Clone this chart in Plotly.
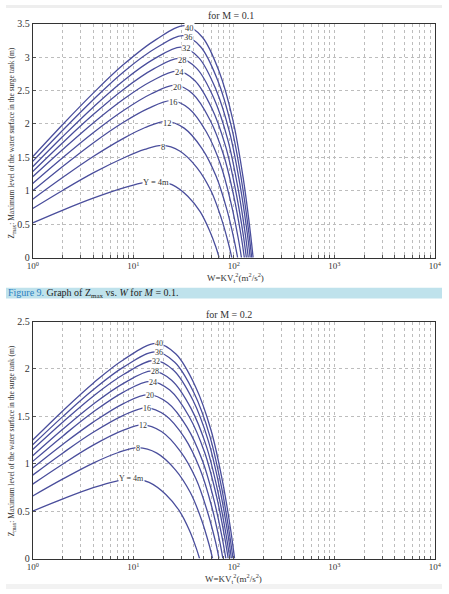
import math
import plotly.graph_objects as go

# ---------------- data ----------------
Y_LEVELS = [4, 8, 12, 16, 20, 24, 28, 32, 36, 40]
CURVE_LABELS = ["Y = 4m", "8", "12", "16", "20", "24", "28", "32", "36", "40"]

# Panel 1: M = 0.1
W_M01 = [
    [1, 2, 4, 8, 12, 17, 24.3, 34.9, 46.5, 57.7, 66.7, 71.6],
    [1, 2, 4, 8, 13, 19.5, 29.0, 43.2, 59.4, 75.3, 88.3, 95.7],
    [1, 2, 4, 8, 13, 21.4, 32.1, 48.4, 67.0, 85.7, 100.8, 109.4],
    [1, 2, 4, 8, 14, 24.0, 35.8, 53.5, 73.8, 93.8, 110.2, 119.4],
    [1, 2, 4, 8, 15, 26.3, 39.0, 57.9, 79.4, 100.7, 118.0, 127.6],
    [1, 2, 4, 8, 15, 27.5, 40.9, 60.7, 83.2, 105.4, 123.6, 133.7],
    [1, 2, 4, 8, 16, 28.8, 42.8, 63.5, 87.0, 110.2, 129.1, 139.6],
    [1, 2, 4, 8, 16, 30.2, 44.8, 66.4, 91.0, 115.1, 134.9, 145.9],
    [1, 2, 4, 8, 17, 31.6, 46.8, 69.1, 94.4, 119.4, 139.6, 151.0],
    [1, 2, 4, 8, 17, 33.1, 48.8, 71.9, 97.9, 123.6, 144.2, 156.0],
]
Z_M01 = [
    [0.52, 0.712, 0.89, 1.044, 1.115, 1.15, 1.093, 0.92, 0.684, 0.40, 0.153, 0],
    [0.735, 1.009, 1.268, 1.491, 1.619, 1.68, 1.596, 1.344, 1.0, 0.588, 0.223, 0],
    [0.875, 1.202, 1.513, 1.785, 1.943, 2.04, 1.938, 1.632, 1.214, 0.714, 0.271, 0],
    [1.0, 1.367, 1.716, 2.025, 2.23, 2.35, 2.233, 1.88, 1.398, 0.823, 0.313, 0],
    [1.11, 1.498, 1.869, 2.201, 2.448, 2.58, 2.451, 2.064, 1.535, 0.903, 0.343, 0],
    [1.21, 1.622, 2.016, 2.37, 2.635, 2.79, 2.651, 2.232, 1.66, 0.977, 0.371, 0],
    [1.29, 1.724, 2.14, 2.517, 2.823, 2.98, 2.831, 2.384, 1.773, 1.043, 0.396, 0],
    [1.36, 1.815, 2.251, 2.647, 2.969, 3.15, 2.993, 2.52, 1.874, 1.103, 0.419, 0],
    [1.44, 1.91, 2.363, 2.779, 3.14, 3.32, 3.154, 2.656, 1.975, 1.162, 0.442, 0],
    [1.51, 1.996, 2.461, 2.888, 3.266, 3.47, 3.297, 2.776, 2.065, 1.215, 0.462, 0],
]
LABEL_W_M01 = [16.9, 20.0, 22.0, 25.4, 27.7, 28.8, 30.8, 33.6, 35.2, 36.0]
LABEL_Z_M01 = [1.13, 1.66, 2.02, 2.33, 2.55, 2.77, 2.95, 3.13, 3.30, 3.44]

# Panel 2: M = 0.2
W_M02 = [
    [1, 2, 4, 7, 9.8, 14.4, 21.1, 28.8, 36.3, 42.3, 45.7],
    [1, 2, 4, 7, 11.2, 17.2, 26.3, 37.0, 47.8, 56.6, 61.6],
    [1, 2, 4, 8, 12.3, 19.1, 29.6, 42.2, 54.8, 65.5, 71.4],
    [1, 2, 4, 8, 13.5, 20.9, 32.5, 46.1, 60.1, 71.6, 78.1],
    [1, 2, 4, 8, 14.1, 22.0, 34.4, 49.0, 64.0, 76.4, 83.5],
    [1, 2, 4, 8, 14.8, 23.1, 36.1, 51.6, 67.5, 80.5, 88.1],
    [1, 2, 4, 8, 15.5, 24.1, 37.6, 53.7, 70.0, 83.6, 91.4],
    [1, 2, 4, 8, 16.2, 25.2, 39.2, 55.8, 72.8, 86.9, 94.8],
    [1, 2, 4, 8, 16.6, 25.9, 40.4, 57.7, 75.3, 89.9, 98.4],
    [1, 2, 4, 8, 17.0, 26.6, 41.6, 59.6, 78.0, 93.3, 102.0],
]
Z_M02 = [
    [0.50, 0.629, 0.747, 0.82, 0.845, 0.803, 0.676, 0.503, 0.296, 0.112, 0],
    [0.66, 0.84, 1.007, 1.116, 1.17, 1.112, 0.936, 0.696, 0.41, 0.156, 0],
    [0.785, 0.998, 1.196, 1.354, 1.41, 1.34, 1.128, 0.839, 0.494, 0.188, 0],
    [0.88, 1.114, 1.332, 1.511, 1.59, 1.511, 1.272, 0.946, 0.557, 0.211, 0],
    [0.955, 1.206, 1.439, 1.635, 1.73, 1.644, 1.384, 1.029, 0.606, 0.23, 0],
    [1.025, 1.294, 1.546, 1.756, 1.87, 1.777, 1.496, 1.113, 0.655, 0.249, 0],
    [1.085, 1.366, 1.628, 1.848, 1.98, 1.881, 1.584, 1.178, 0.693, 0.263, 0],
    [1.15, 1.44, 1.712, 1.941, 2.09, 1.986, 1.672, 1.244, 0.732, 0.278, 0],
    [1.20, 1.5, 1.78, 2.019, 2.18, 2.071, 1.744, 1.297, 0.763, 0.29, 0],
    [1.25, 1.56, 1.85, 2.098, 2.27, 2.157, 1.816, 1.351, 0.795, 0.302, 0],
]
LABEL_W_M02 = [9.6, 11.1, 12.6, 13.8, 14.6, 15.7, 16.4, 17.0, 17.9, 18.1]
LABEL_Z_M02 = [0.84, 1.16, 1.40, 1.58, 1.72, 1.86, 1.97, 2.075, 2.175, 2.268]
LABEL_SIZES = [8.5, 8]  # per panel

# axis ticks
X_DECADES = [0, 1, 2, 3, 4]
X_MULTIPLES = [1, 2, 3, 4, 5, 6, 7, 8, 9]

# ---------------- figure ----------------
W_PX, H_PX = 449, 594
LINE_COLOR = "#4a4e9c"
SERIF = "Liberation Serif, Times New Roman, serif"
TXT = "#333333"

fig = go.Figure()

panels = [
    (W_M01, Z_M01, LABEL_W_M01, LABEL_Z_M01, "x", "y", LABEL_SIZES[0]),
    (W_M02, Z_M02, LABEL_W_M02, LABEL_Z_M02, "x2", "y2", LABEL_SIZES[1]),
]
for ws, zs, lw, lz, xa, ya, fs in panels:
    for w, z, lvl in zip(ws, zs, Y_LEVELS):
        fig.add_trace(go.Scatter(
            x=w, y=z, mode="lines", xaxis=xa, yaxis=ya,
            line=dict(color=LINE_COLOR, width=1.3, shape="spline", smoothing=1.0),
            name=f"Y={lvl}", showlegend=False, hoverinfo="skip"))
    for txt, wx, zy in zip(CURVE_LABELS, lw, lz):
        fig.add_annotation(x=math.log10(wx), y=zy, xref=xa, yref=ya,
                           text=txt, showarrow=False, xanchor="center", yanchor="middle",
                           font=dict(family=SERIF, size=fs, color=TXT),
                           bgcolor="white", borderpad=0)

tickvals, ticktext = [], []
for d in X_DECADES:
    for k in X_MULTIPLES:
        if d == 4 and k > 1:
            break
        tickvals.append(k * 10 ** d)
        ticktext.append(f"10<sup>{d}</sup>" if k == 1 else "")

xdom = [27.5 / W_PX, 441.5 / W_PX]
top_dom = [1 - 257 / H_PX, 1 - 19 / H_PX]
bot_dom = [1 - 563 / H_PX, 1 - 322 / H_PX]

xcommon = dict(type="log", range=[0, 4], domain=xdom, tickvals=tickvals, ticktext=ticktext,
               showgrid=True, gridcolor="#bdbdbd", griddash="dot", gridwidth=1,
               showline=True, linecolor="#333333", linewidth=1, mirror=True,
               ticks="inside", ticklen=3, tickcolor="#555555",
               tickfont=dict(family=SERIF, size=9, color=TXT), zeroline=False)
ycommon = dict(dtick=0.5, showgrid=True, gridcolor="#bdbdbd", griddash="dot", gridwidth=1,
               showline=True, linecolor="#333333", linewidth=1, mirror=True,
               ticks="inside", ticklen=3, tickcolor="#555555",
               tickfont=dict(family=SERIF, size=10, color=TXT), zeroline=False)

fig.update_layout(
    width=W_PX, height=H_PX,
    margin=dict(l=0, r=0, t=0, b=0),
    paper_bgcolor="white", plot_bgcolor="white",
    xaxis=dict(**xcommon, anchor="y"),
    yaxis=dict(**ycommon, range=[0, 3.5], domain=top_dom, anchor="x"),
    xaxis2=dict(**xcommon, anchor="y2"),
    yaxis2=dict(**ycommon, range=[0, 2.5], domain=bot_dom, anchor="x2"),
)


def py(px):
    return 1 - px / H_PX


def pxx(px):
    return px / W_PX


# caption band
fig.add_shape(type="rect", xref="paper", yref="paper", x0=0, x1=1,
              y0=py(298.5), y1=py(287.5), fillcolor="#bfe2ec", line_width=0, layer="below")
# faint page edges
fig.add_shape(type="rect", xref="paper", yref="paper", x0=0, x1=1,
              y0=py(3), y1=1, fillcolor="#eeeeee", line_width=0, layer="below")
fig.add_shape(type="rect", xref="paper", yref="paper", x0=0, x1=1,
              y0=0, y1=py(589), fillcolor="#f2f2f2", line_width=0, layer="below")

ann = [
    dict(x=pxx(232), y=py(11), text="for M = 0.1", size=10),
    dict(x=pxx(230), y=py(315), text="for M = 0.2", size=10),
    dict(x=pxx(236), y=py(277), text="W=KV<sub>t</sub><sup>2</sup>(m<sup>2</sup>/s<sup>2</sup>)", size=9),
    dict(x=pxx(234), y=py(583), text="W=KV<sub>t</sub><sup>2</sup>(m<sup>2</sup>/s<sup>2</sup>)", size=9),
]
for a in ann:
    fig.add_annotation(x=a["x"], y=a["y"], xref="paper", yref="paper", text=a["text"],
                       showarrow=False, xanchor="center", yanchor="middle",
                       font=dict(family=SERIF, size=a["size"], color=TXT))

ytitle = "Z<sub>max</sub>: Maximum level of the water surface in the surge tank (m)"
for yc in (py(140), py(443)):
    fig.add_annotation(x=pxx(6), y=yc, xref="paper", yref="paper", text=ytitle, textangle=-90,
                       showarrow=False, xanchor="center", yanchor="middle",
                       font=dict(family=SERIF, size=7.5, color=TXT))

fig.add_annotation(x=0.0, y=py(293), xref="paper", yref="paper", xanchor="left", yanchor="middle",
                   text="<span style='color:#2a7fc0'>Figure 9.</span> Graph of Z<sub>max</sub> vs. <i>W</i> for <i>M</i> = 0.1.",
                   showarrow=False, font=dict(family=SERIF, size=10, color="#222222"))

fig.write_html("out.html")
